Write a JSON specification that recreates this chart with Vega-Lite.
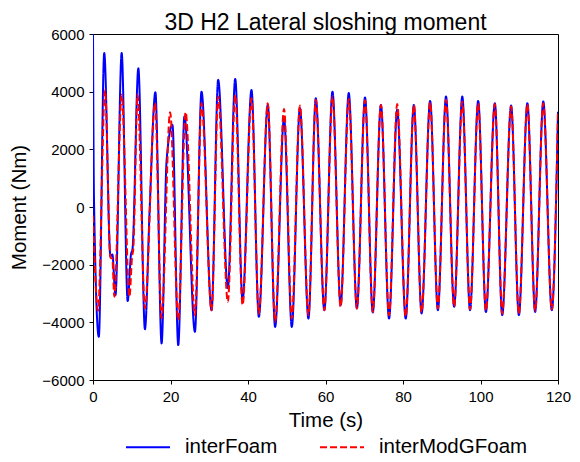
{
  "$schema": "https://vega.github.io/schema/vega-lite/v6.json",
  "width": 465,
  "height": 346,
  "autosize": "none",
  "padding": {"left": 93, "top": 34, "right": 22, "bottom": 82},
  "background": "white",
  "title": {"text": "3D H2 Lateral sloshing moment", "fontSize": 23, "font": "Liberation Sans", "fontWeight": "normal", "color": "black", "offset": -4, "dy": 27, "anchor": "middle", "baseline": "bottom"},
  "config": {
    "view": {"stroke": "black", "strokeWidth": 1},
    "axis": {"grid": false, "domainColor": "black", "tickColor": "black", "labelColor": "black", "titleColor": "black", "labelFont": "Liberation Sans", "titleFont": "Liberation Sans", "labelFontSize": 15, "titleFontSize": 20.5, "titleFontWeight": "normal", "tickSize": 4, "labelPadding": 5, "labelFlush": false}
  },
  "data": {"values": [
    {"t":0,"m":6000,"s":"interFoam"},{"t":0.25,"m":300,"s":"interFoam"},{"t":1.5,"m":-4500,"s":"interFoam"},{"t":2.9,"m":5340,"s":"interFoam"},{"t":4.5,"m":-1700,"s":"interFoam"},{"t":5.0,"m":-1650,"s":"interFoam"},{"t":5.8,"m":-3060,"s":"interFoam"},{"t":7.4,"m":5340,"s":"interFoam"},{"t":8.95,"m":-3260,"s":"interFoam"},{"t":9.8,"m":-1650,"s":"interFoam"},{"t":10.2,"m":-1450,"s":"interFoam"},{"t":11.7,"m":4810,"s":"interFoam"},{"t":13.4,"m":-4240,"s":"interFoam"},{"t":14.6,"m":-150,"s":"interFoam"},{"t":16.1,"m":3980,"s":"interFoam"},{"t":17.7,"m":-4730,"s":"interFoam"},{"t":19.0,"m":1630,"s":"interFoam"},{"t":20.5,"m":2850,"s":"interFoam"},{"t":22.0,"m":-4790,"s":"interFoam"},{"t":23.6,"m":3140,"s":"interFoam"},{"t":26.3,"m":-4330,"s":"interFoam"},{"t":28.0,"m":4000,"s":"interFoam"},{"t":30.6,"m":-3580,"s":"interFoam"},{"t":32.3,"m":4410,"s":"interFoam"},{"t":34.8,"m":-2820,"s":"interFoam"},{"t":36.7,"m":4440,"s":"interFoam"},{"t":38.6,"m":-3230,"s":"interFoam"},{"t":40.9,"m":4060,"s":"interFoam"},{"t":42.8,"m":-3810,"s":"interFoam"},{"t":45.1,"m":3540,"s":"interFoam"},{"t":47.0,"m":-4160,"s":"interFoam"},{"t":49.3,"m":3080,"s":"interFoam"},{"t":51.3,"m":-4160,"s":"interFoam"},{"t":53.4,"m":3430,"s":"interFoam"},{"t":55.6,"m":-3870,"s":"interFoam"},{"t":57.5,"m":3770,"s":"interFoam"},{"t":59.7,"m":-3580,"s":"interFoam"},{"t":61.8,"m":4000,"s":"interFoam"},{"t":63.9,"m":-3400,"s":"interFoam"},{"t":66.0,"m":3950,"s":"interFoam"},{"t":68.1,"m":-3520,"s":"interFoam"},{"t":70.2,"m":3800,"s":"interFoam"},{"t":72.2,"m":-3660,"s":"interFoam"},{"t":74.3,"m":3540,"s":"interFoam"},{"t":76.4,"m":-3870,"s":"interFoam"},{"t":78.5,"m":3370,"s":"interFoam"},{"t":80.7,"m":-3870,"s":"interFoam"},{"t":82.8,"m":3540,"s":"interFoam"},{"t":84.8,"m":-3690,"s":"interFoam"},{"t":87.0,"m":3680,"s":"interFoam"},{"t":89.0,"m":-3580,"s":"interFoam"},{"t":91.1,"m":3830,"s":"interFoam"},{"t":93.2,"m":-3460,"s":"interFoam"},{"t":95.3,"m":3830,"s":"interFoam"},{"t":97.3,"m":-3580,"s":"interFoam"},{"t":99.4,"m":3680,"s":"interFoam"},{"t":101.4,"m":-3640,"s":"interFoam"},{"t":103.7,"m":3600,"s":"interFoam"},{"t":105.6,"m":-3750,"s":"interFoam"},{"t":107.9,"m":3520,"s":"interFoam"},{"t":109.9,"m":-3750,"s":"interFoam"},{"t":112.1,"m":3600,"s":"interFoam"},{"t":114.1,"m":-3640,"s":"interFoam"},{"t":116.2,"m":3660,"s":"interFoam"},{"t":118.4,"m":-3580,"s":"interFoam"},{"t":120,"m":3300,"s":"interFoam"},
    {"t":0,"m":-300,"s":"interModGFoam"},{"t":1.3,"m":-3600,"s":"interModGFoam"},{"t":3.1,"m":4060,"s":"interModGFoam"},{"t":4.5,"m":-1750,"s":"interModGFoam"},{"t":5.0,"m":-1800,"s":"interModGFoam"},{"t":5.5,"m":-3110,"s":"interModGFoam"},{"t":7.4,"m":3890,"s":"interModGFoam"},{"t":9.4,"m":-3110,"s":"interModGFoam"},{"t":10.1,"m":-1700,"s":"interModGFoam"},{"t":10.4,"m":-1450,"s":"interModGFoam"},{"t":11.5,"m":3890,"s":"interModGFoam"},{"t":13.4,"m":-3510,"s":"interModGFoam"},{"t":16.0,"m":3600,"s":"interModGFoam"},{"t":17.7,"m":-3860,"s":"interModGFoam"},{"t":19.9,"m":3290,"s":"interModGFoam"},{"t":22.0,"m":-3920,"s":"interModGFoam"},{"t":23.9,"m":3290,"s":"interModGFoam"},{"t":26.3,"m":-3750,"s":"interModGFoam"},{"t":28.0,"m":3600,"s":"interModGFoam"},{"t":30.6,"m":-3580,"s":"interModGFoam"},{"t":32.3,"m":3830,"s":"interModGFoam"},{"t":34.8,"m":-3290,"s":"interModGFoam"},{"t":36.7,"m":3890,"s":"interModGFoam"},{"t":38.6,"m":-3400,"s":"interModGFoam"},{"t":40.9,"m":3770,"s":"interModGFoam"},{"t":42.8,"m":-3700,"s":"interModGFoam"},{"t":45.1,"m":3600,"s":"interModGFoam"},{"t":47.0,"m":-3980,"s":"interModGFoam"},{"t":49.3,"m":3400,"s":"interModGFoam"},{"t":51.3,"m":-3870,"s":"interModGFoam"},{"t":53.4,"m":3520,"s":"interModGFoam"},{"t":55.6,"m":-3750,"s":"interModGFoam"},{"t":57.5,"m":3720,"s":"interModGFoam"},{"t":59.7,"m":-3580,"s":"interModGFoam"},{"t":61.8,"m":3830,"s":"interModGFoam"},{"t":63.9,"m":-3460,"s":"interModGFoam"},{"t":66.0,"m":3750,"s":"interModGFoam"},{"t":68.1,"m":-3520,"s":"interModGFoam"},{"t":70.2,"m":3700,"s":"interModGFoam"},{"t":72.2,"m":-3640,"s":"interModGFoam"},{"t":74.3,"m":3540,"s":"interModGFoam"},{"t":76.4,"m":-3750,"s":"interModGFoam"},{"t":78.5,"m":3570,"s":"interModGFoam"},{"t":80.7,"m":-3800,"s":"interModGFoam"},{"t":82.8,"m":3540,"s":"interModGFoam"},{"t":84.8,"m":-3650,"s":"interModGFoam"},{"t":87.0,"m":3630,"s":"interModGFoam"},{"t":89.0,"m":-3520,"s":"interModGFoam"},{"t":91.1,"m":3720,"s":"interModGFoam"},{"t":93.2,"m":-3450,"s":"interModGFoam"},{"t":95.3,"m":3660,"s":"interModGFoam"},{"t":97.3,"m":-3550,"s":"interModGFoam"},{"t":99.4,"m":3600,"s":"interModGFoam"},{"t":101.4,"m":-3600,"s":"interModGFoam"},{"t":103.7,"m":3570,"s":"interModGFoam"},{"t":105.6,"m":-3700,"s":"interModGFoam"},{"t":107.9,"m":3490,"s":"interModGFoam"},{"t":109.9,"m":-3700,"s":"interModGFoam"},{"t":112.1,"m":3570,"s":"interModGFoam"},{"t":114.1,"m":-3600,"s":"interModGFoam"},{"t":116.2,"m":3600,"s":"interModGFoam"},{"t":118.4,"m":-3550,"s":"interModGFoam"},{"t":120,"m":3300,"s":"interModGFoam"}
  ]},
  "mark": {"type": "line", "interpolate": "monotone", "strokeWidth": 2, "clip": true},
  "encoding": {
    "x": {"field": "t", "type": "quantitative", "title": "Time (s)", "scale": {"domain": [0, 120], "nice": false, "zero": false},
      "axis": {"values": [0, 20, 40, 60, 80, 100, 120], "titlePadding": 6}},
    "y": {"field": "m", "type": "quantitative", "title": "Moment (Nm)", "scale": {"domain": [-6000, 6000], "nice": false},
      "axis": {"values": [-6000, -4000, -2000, 0, 2000, 4000, 6000], "format": "d", "titlePadding": 12}},
    "color": {"field": "s", "type": "nominal", "title": null,
      "scale": {"domain": ["interFoam", "interModGFoam"], "range": ["#0000ff", "#ff0000"]},
      "legend": {"orient": "none", "legendX": 32, "legendY": 390, "direction": "horizontal", "symbolType": "stroke", "symbolSize": 1936, "symbolStrokeWidth": 2, "labelFontSize": 20.5, "labelFont": "Liberation Sans", "labelColor": "black", "labelOffset": 14, "columnPadding": 38, "padding": 0}},
    "strokeDash": {"field": "s", "type": "nominal", "title": null,
      "scale": {"domain": ["interFoam", "interModGFoam"], "range": [[1, 0], [7, 3]]}}
  }
}
